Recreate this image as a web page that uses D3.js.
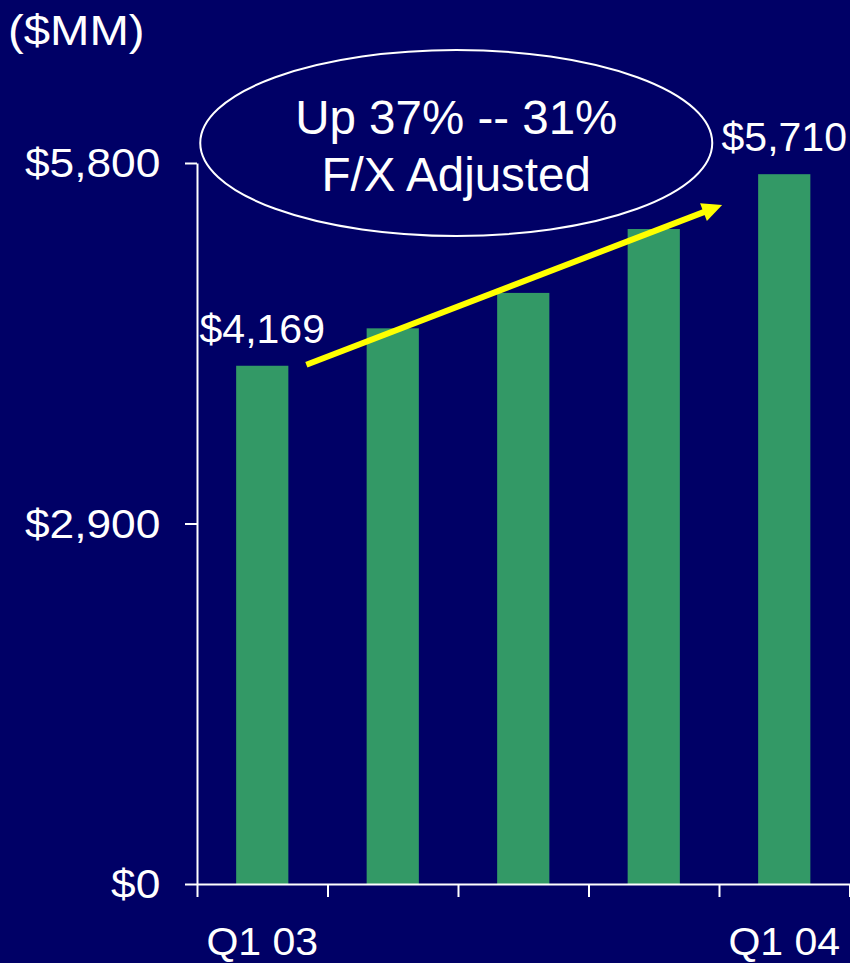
<!DOCTYPE html>
<html><head><meta charset="utf-8">
<script src="https://cdn.jsdelivr.net/npm/d3@7"></script>
<style>html,body{margin:0;padding:0;background:#000066;}svg{display:block;}</style>
</head><body>
<svg id="c" width="850" height="963"></svg>
<script>
const categories = ["Q1 03", "Q2 03", "Q3 03", "Q4 03", "Q1 04"];
const revenue = [4169, 4470, 4755, 5269, 5710];
const categoryLabels = ["Q1 03", "", "", "", "Q1 04"];
const yTicks = [0, 2900, 5800];
const yTickLabels = ["$0", "$2,900", "$5,800"];
const valueLabels = ["$4,169", "", "", "", "$5,710"];
const unitLabel = "($MM)";
const calloutLines = ["Up 37% -- 31%", "F/X Adjusted"];
const trendArrow = [4169, 5462]; // start / end value of growth arrow

(function () {
const W = 850, H = 963;
const pLeft = 197, pRight = 849.5, pTop = 163, pBottom = 884;
const font = "'Liberation Sans', Arial, sans-serif";
const svg = d3.select("#c");
svg.append("rect").attr("width", W).attr("height", H).attr("fill", "#000066");

const x = d3.scaleBand().domain(categories).range([pLeft, pRight]).paddingInner(0.6).paddingOuter(0.3);
const xb = d3.scaleLinear().domain([0, categories.length]).range([pLeft, pRight]);
const y = d3.scaleLinear().domain([0, 5800]).range([pBottom, pTop]);

// bars
svg.selectAll("rect.bar").data(revenue).join("rect")
  .attr("class", "bar")
  .attr("x", (d, i) => x(categories[i]))
  .attr("width", x.bandwidth())
  .attr("y", d => y(d))
  .attr("height", d => y(0) - y(d))
  .attr("fill", "#339966");

// y axis
const ya = svg.append("g").attr("transform", `translate(${pLeft},0)`)
  .call(d3.axisLeft(y).tickValues(yTicks).tickSize(12).tickSizeOuter(0).tickPadding(22)
    .tickFormat((d, i) => yTickLabels[i]));
ya.selectAll("path,line").attr("stroke", "#ffffff").attr("stroke-width", 2);
ya.selectAll("text").attr("fill", "#ffffff").attr("font-family", font).attr("font-size", 41)
  .attr("dy", "0.34em").attr("transform", "scale(1.08,1)");

// x axis (ticks at band boundaries)
const xa = svg.append("g").attr("transform", `translate(0,${pBottom})`)
  .call(d3.axisBottom(xb).tickValues(d3.range(categories.length + 1)).tickSize(13).tickSizeOuter(0).tickFormat(""));
xa.selectAll("path,line").attr("stroke", "#ffffff").attr("stroke-width", 2);

// category labels
svg.selectAll("text.cat").data(categoryLabels).join("text")
  .attr("class", "cat")
  .attr("text-anchor", "middle")
  .attr("transform", (d, i) => `translate(${x(categories[i]) + x.bandwidth() / 2},955) scale(1.08,1)`)
  .attr("fill", "#ffffff").attr("font-family", font).attr("font-size", 38)
  .text(d => d);

// value labels
svg.selectAll("text.val").data(valueLabels).join("text")
  .attr("class", "val")
  .attr("text-anchor", "middle")
  .attr("x", (d, i) => x(categories[i]) + x.bandwidth() / 2)
  .attr("y", (d, i) => y(revenue[i]) - 23)
  .attr("fill", "#ffffff").attr("font-family", font).attr("font-size", 41)
  .text(d => d);

// unit label
svg.append("text").attr("transform", "translate(8,45) scale(1.1,1)")
  .attr("fill", "#ffffff").attr("font-family", font).attr("font-size", 43).text(unitLabel);

// callout ellipse
const ecx = (x(categories[2]) + x.bandwidth() / 2) - 67;
svg.append("ellipse").attr("cx", ecx).attr("cy", 143).attr("rx", 256).attr("ry", 93)
  .attr("fill", "none").attr("stroke", "#ffffff").attr("stroke-width", 2);
svg.selectAll("text.call").data(calloutLines).join("text")
  .attr("class", "call").attr("text-anchor", "middle")
  .attr("x", ecx).attr("y", (d, i) => 134 + i * 57)
  .attr("fill", "#ffffff").attr("font-family", font).attr("font-size", 47.5)
  .text(d => d);

// trend arrow
const x0 = x(categories[0]) + x.bandwidth() + 18;
const y0 = y(trendArrow[0]) - 1;
const x1 = x(categories[4]) - 36;
const y1 = y(trendArrow[1]);
const ang = Math.atan2(y1 - y0, x1 - x0);
const ux = Math.cos(ang), uy = Math.sin(ang), px = -uy, py = ux;
const L = 20, hw = 9.5;
const bx = x1 - L * ux, by = y1 - L * uy;
svg.append("line").attr("x1", x0).attr("y1", y0).attr("x2", bx + ux).attr("y2", by + uy)
  .attr("stroke", "#ffff00").attr("stroke-width", 6);
svg.append("polygon")
  .attr("points", [[x1, y1], [bx + hw * px, by + hw * py], [bx - hw * px, by - hw * py]].map(p => p.join(",")).join(" "))
  .attr("fill", "#ffff00");
})();
</script>
</body></html>
